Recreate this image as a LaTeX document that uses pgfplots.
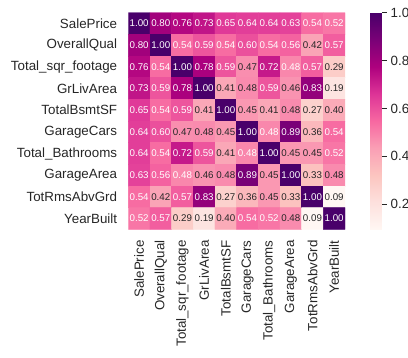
\documentclass[border=0pt]{standalone}
\usepackage{pgfplots}
\pgfplotsset{compat=1.18}
\usepackage{pgfplotstable}
\usepackage{fontspec}
\setmainfont{Liberation Sans}
\definecolor{txt}{HTML}{262626}
\pgfplotsset{
  colormap={RdPu}{
    rgb255=(255,247,243) rgb255=(253,224,221) rgb255=(252,197,192)
    rgb255=(250,159,181) rgb255=(247,104,161) rgb255=(221,52,151)
    rgb255=(174,1,126) rgb255=(122,1,119) rgb255=(73,0,106)}
}
\pgfplotstableread{
x y c
0 0 1.00
1 0 0.80
2 0 0.76
3 0 0.73
4 0 0.65
5 0 0.64
6 0 0.64
7 0 0.63
8 0 0.54
9 0 0.52
0 1 0.80
1 1 1.00
2 1 0.54
3 1 0.59
4 1 0.54
5 1 0.60
6 1 0.54
7 1 0.56
8 1 0.42
9 1 0.57
0 2 0.76
1 2 0.54
2 2 1.00
3 2 0.78
4 2 0.59
5 2 0.47
6 2 0.72
7 2 0.484
8 2 0.57
9 2 0.29
0 3 0.73
1 3 0.59
2 3 0.78
3 3 1.00
4 3 0.41
5 3 0.476
6 3 0.59
7 3 0.46
8 3 0.83
9 3 0.19
0 4 0.65
1 4 0.54
2 4 0.59
3 4 0.41
4 4 1.00
5 4 0.45
6 4 0.41
7 4 0.476
8 4 0.27
9 4 0.40
0 5 0.64
1 5 0.60
2 5 0.47
3 5 0.476
4 5 0.45
5 5 1.00
6 5 0.484
7 5 0.89
8 5 0.36
9 5 0.54
0 6 0.64
1 6 0.54
2 6 0.72
3 6 0.59
4 6 0.41
5 6 0.484
6 6 1.00
7 6 0.45
8 6 0.45
9 6 0.52
0 7 0.63
1 7 0.56
2 7 0.484
3 7 0.46
4 7 0.476
5 7 0.89
6 7 0.45
7 7 1.00
8 7 0.33
9 7 0.476
0 8 0.54
1 8 0.42
2 8 0.57
3 8 0.83
4 8 0.27
5 8 0.36
6 8 0.45
7 8 0.33
8 8 1.00
9 8 0.09
0 9 0.52
1 9 0.57
2 9 0.29
3 9 0.19
4 9 0.40
5 9 0.54
6 9 0.52
7 9 0.476
8 9 0.09
9 9 1.00
}\corr
\begin{document}
\begin{tikzpicture}
\useasboundingbox (0,0) rectangle (408bp,-358bp);
\begin{axis}[
  at={(128.3bp,-12.7bp)}, anchor=north west,
  scale only axis, width=216.7bp, height=216.6bp,
  xmin=-0.5, xmax=9.5, ymin=-0.5, ymax=9.5,
  y dir=reverse,
  axis line style={draw=none},
  major tick length=0pt,
  xtick={0,...,9}, ytick={0,...,9},
  xticklabels={SalePrice,OverallQual,Total\_sqr\_footage,GrLivArea,TotalBsmtSF,GarageCars,Total\_Bathrooms,GarageArea,TotRmsAbvGrd,YearBuilt},
  yticklabels={SalePrice,OverallQual,Total\_sqr\_footage,GrLivArea,TotalBsmtSF,GarageCars,Total\_Bathrooms,GarageArea,TotRmsAbvGrd,YearBuilt},
  ticklabel style={font=\fontsize{13.4}{13.4}\selectfont, text=txt, inner sep=0pt},
  xticklabel style={rotate=90, anchor=east},
  yticklabel style={anchor=east},
  xtick pos=bottom, ytick pos=left,
  xticklabel shift=11bp, yticklabel shift=11bp,
  colormap name=RdPu,
  point meta min=0.0955, point meta max=1,
  colorbar,
  colorbar style={
    scale only axis,
    at={(parent axis.north east)}, anchor=north west, xshift=16.7bp,
    width=11.6bp, height=216.6bp,
    ytick={0.2,0.4,0.6,0.8,1.0},
    yticklabel pos=right, ytick pos=right,
    tick align=outside,
    major tick length=4.7bp,
    tick style={draw=txt, line width=0.8bp},
    axis line style={draw=none},
    yticklabel shift=4bp,
    yticklabel style={font=\fontsize{13.4}{13.4}\selectfont, text=txt, inner sep=0pt, anchor=west,
      /pgf/number format/.cd, fixed, fixed zerofill, precision=1, assume math mode=true},
  },
]
\addplot[matrix plot*, mesh/cols=10, point meta=explicit] table[meta=c] {\corr};
\addplot[only marks, mark=none, point meta=explicit,
  nodes near coords={\pgfmathprintnumber[fixed,fixed zerofill,precision=2,assume math mode=true]{\pgfplotspointmeta}},
  nodes near coords align=center,
  every node near coord/.append style={font=\fontsize{9.8}{9.8}\selectfont, text=white, inner sep=0pt, anchor=center},
  x filter/.expression={\thisrow{c}>=0.48 ? x : nan}]
  table[meta=c] {\corr};
\addplot[only marks, mark=none, point meta=explicit,
  nodes near coords={\pgfmathprintnumber[fixed,fixed zerofill,precision=2,assume math mode=true]{\pgfplotspointmeta}},
  nodes near coords align=center,
  every node near coord/.append style={font=\fontsize{9.8}{9.8}\selectfont, text=txt, inner sep=0pt, anchor=center},
  x filter/.expression={\thisrow{c}<0.48 ? x : nan}]
  table[meta=c] {\corr};
\end{axis}
\end{tikzpicture}
\end{document}
